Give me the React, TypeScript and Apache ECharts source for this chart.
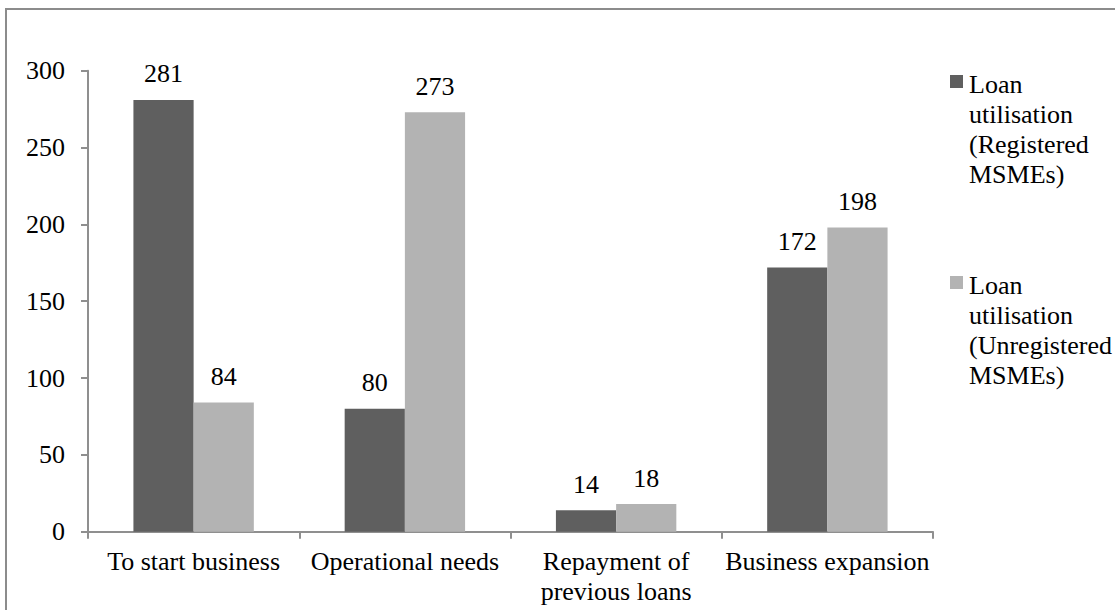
import React, { useEffect, useRef } from "react";
import * as echarts from "echarts";

const categories = [
  "To start business",
  "Operational needs",
  "Repayment of\nprevious loans",
  "Business expansion",
];
const seriesNames = [
  "Loan\nutilisation\n(Registered\nMSMEs)",
  "Loan\nutilisation\n(Unregistered\nMSMEs)",
];
const registered = [281, 80, 14, 172];
const unregistered = [84, 273, 18, 198];
const colors = ["#5f5f5f", "#b3b3b3"];

const FONT = "Liberation Serif, Times New Roman, serif";

export default function App() {
  const ref = useRef<HTMLDivElement>(null);

  useEffect(() => {
    if (!ref.current) return;
    const chart = echarts.init(ref.current, undefined, { renderer: "svg" });

    const labelStyle = {
      show: true,
      position: "top" as const,
      distance: 11,
      color: "#000",
      fontFamily: FONT,
      fontSize: 26,
      lineHeight: 30,
    };

    // legend drawn by hand so each swatch sits beside the first text line
    const legendTops = [69, 270];
    const legendGraphics: any[] = [];
    seriesNames.forEach((name, i) => {
      legendGraphics.push({
        type: "rect",
        shape: { x: 950, y: legendTops[i] + 6, width: 13, height: 13 },
        style: { fill: colors[i] },
      });
      legendGraphics.push({
        type: "text",
        x: 969,
        y: legendTops[i],
        style: {
          text: name,
          fontFamily: FONT,
          fontSize: 26,
          lineHeight: 30,
          fill: "#000",
          verticalAlign: "top",
        },
      });
    });

    chart.setOption({
      animation: false,
      backgroundColor: "#fff",
      textStyle: { fontFamily: FONT },
      grid: { left: 88, right: 182, top: 70.7, bottom: 78.3 },
      xAxis: {
        type: "category",
        data: categories,
        axisLine: { lineStyle: { color: "#8f8f8f", width: 2 } },
        axisTick: { show: true, length: 7, lineStyle: { color: "#8f8f8f", width: 2 } },
        axisLabel: {
          color: "#000",
          fontFamily: FONT,
          fontSize: 26,
          lineHeight: 30,
          margin: 15,
          interval: 0,
        },
      },
      yAxis: {
        type: "value",
        min: 0,
        max: 300,
        interval: 50,
        splitLine: { show: false },
        axisLine: { show: true, lineStyle: { color: "#8f8f8f", width: 2 } },
        axisTick: { show: true, length: 7, lineStyle: { color: "#8f8f8f", width: 2 } },
        axisLabel: {
          color: "#000",
          fontFamily: FONT,
          fontSize: 26,
          lineHeight: 30,
          margin: 23,
        },
      },
      series: [
        {
          type: "bar",
          name: seriesNames[0],
          data: registered,
          barGap: "0%",
          barCategoryGap: "43%",
          itemStyle: { color: colors[0] },
          label: labelStyle,
        },
        {
          type: "bar",
          name: seriesNames[1],
          data: unregistered,
          barGap: "0%",
          barCategoryGap: "43%",
          itemStyle: { color: colors[1] },
          label: labelStyle,
        },
      ],
      graphic: [
        {
          type: "rect",
          shape: { x: 6, y: 9, width: 1130, height: 640 },
          style: { fill: "none", stroke: "#8c8c8c", lineWidth: 2 },
        },
        ...legendGraphics,
      ],
    });

    return () => chart.dispose();
  }, []);

  return (
    <div
      ref={ref}
      style={{ position: "absolute", left: 0, top: 0, width: 1115, height: 610 }}
    />
  );
}
